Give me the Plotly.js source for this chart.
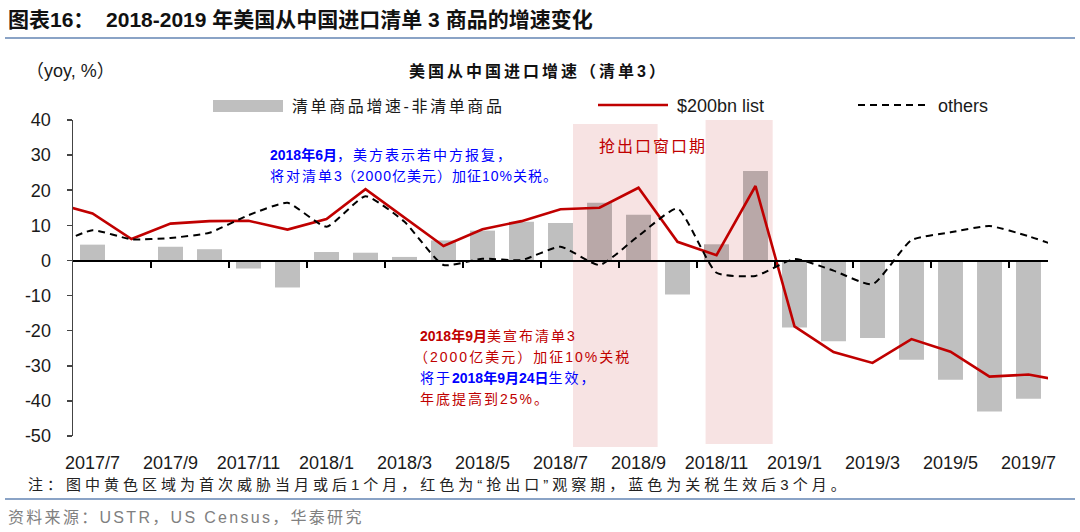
<!DOCTYPE html>
<html>
<head>
<meta charset="utf-8">
<script src="https://cdn.plot.ly/plotly-3.0.1.min.js"></script>
<style>
  html, body { margin: 0; padding: 0; background: #fff; }
  #grafico { width: 1080px; height: 532px; }
</style>
</head>
<body>
<div id="grafico"></div>
<script>
// months: 2017/6 and 2019/8 only feed the line ends that get clipped at the plot edges
let months = ['2017/6', '2017/7', '2017/8', '2017/9', '2017/10', '2017/11', '2017/12',
  '2018/1', '2018/2', '2018/3', '2018/4', '2018/5', '2018/6', '2018/7', '2018/8', '2018/9',
  '2018/10', '2018/11', '2018/12', '2019/1', '2019/2', '2019/3', '2019/4', '2019/5',
  '2019/6', '2019/7', '2019/8'];
let labelMonths = ['2017/7', '2017/9', '2017/11', '2018/1', '2018/3', '2018/5', '2018/7',
  '2018/9', '2018/11', '2019/1', '2019/3', '2019/5', '2019/7'];
let tickMonths = labelMonths.slice(1);

// 清单商品增速-非清单商品
let gapVals = [null, 4.5, 0, 3.9, 3.2, -2.3, -7.7, 2.4, 2.2, 1.0, 5.7, 8.5, 11.0, 10.7,
  16.4, 13.0, -9.7, 4.6, 25.5, -19.1, -23.0, -22.1, -28.3, -34.0, -43.0, -39.4, null];
// $200bn list
let list200 = [16.4, 13.4, 6.1, 10.5, 11.2, 11.3, 8.8, 11.8, 20.3, 12.2, 4.1, 8.9, 11.2,
  14.6, 15.0, 20.7, 5.3, 1.5, 21.2, -18.8, -26.1, -29.2, -22.4, -26.0, -33.1, -32.5, -34.5];
// others
let others = [4.2, 8.6, 6.0, 6.4, 7.9, 12.9, 16.4, 9.6, 18.3, 11.0, -1.3, 0.5, 0.1, 3.9,
  -1.3, 7.0, 14.8, -3.5, -4.4, 0.4, -2.9, -6.8, 5.8, 8.0, 9.8, 6.9, 3.1];

let windowMonths = ['2018/8', '2018/9', '2018/11', '2018/12'];
let yTicks = [40, 30, 20, 10, 0, -10, -20, -30, -40, -50];
let yTickText = yTicks.map(v => String(v));

const RED = '#c00000';
const BLUE = '#0000ff';
const FONT = 'Arial, "Liberation Sans", "Noto Sans CJK SC", sans-serif';

// pixel -> paper helpers (plot area 73..1048 x 120..436)
const L = 73, W = 975, B = 436, H = 316;
const px = x => (x - L) / W;
const py = y => (B - y) / H;

let barColors = months.map(m => windowMonths.includes(m) ? '#b9a8a8' : '#bfbfbf');
// tick marks sit on the boundary before each labelled month
let tickPos = tickMonths.map(m => months.indexOf(m) - 0.5);

let barras = {
  type: 'bar',
  x: months,
  y: gapVals,
  marker: { color: barColors },
  name: '清单商品增速-非清单商品'
};
let lista = {
  type: 'scatter',
  mode: 'lines',
  x: months,
  y: list200,
  xaxis: 'x2',
  line: { color: RED, width: 2.6 },
  name: '$200bn list'
};
let otros = {
  type: 'scatter',
  mode: 'lines',
  x: months,
  y: others,
  xaxis: 'x2',
  line: { color: '#000', width: 2, dash: '7px,5px', shape: 'spline', smoothing: 0.5 },
  name: 'others'
};

function txt(text, x, y, size, color, extra) {
  return Object.assign({
    text: text, xref: 'paper', yref: 'paper', x: px(x), y: py(y),
    xanchor: 'left', yanchor: 'middle', showarrow: false,
    font: { family: FONT, size: size, color: color }
  }, extra || {});
}
function sp(s, n) { return '<span style="letter-spacing:' + n + 'px">' + s + '</span>'; }

let annotations = [
  txt('<b>图表16：  2018-2019 年美国从中国进口清单 3 商品的增速变化</b>', 6, 19, 21, '#111'),
  txt('（yoy, %）', 24, 71, 18, '#1a1a1a'),
  txt('<b>' + sp('美国从中国进口增速（清单3）', 3) + '</b>', 538, 71, 16, '#111', { xanchor: 'center' }),
  txt(sp('清单商品增速-非清单商品', 2.6), 290, 106, 16, '#1a1a1a'),
  txt('$200bn list', 675, 106, 18, '#1a1a1a'),
  txt('others', 936, 106, 18, '#1a1a1a'),
  txt('<b>2018年6月</b>' + sp('，美方表示若中方报复，', 2), 268, 155, 14, BLUE),
  txt(sp('将对清单', 2) + '3' + sp('（2000亿美元）加征10%关税。', 1), 268, 176, 14, BLUE),
  txt(sp('抢出口窗口期', 2), 597, 146, 16, RED),
  txt('<b>2018年9月</b>' + sp('美宣布清单', 2) + '3', 418, 336, 14, RED),
  txt(sp('（2000亿美元）加征10%关税', 2), 412, 357, 14, RED),
  txt(sp('将于', 2) + '<b>2018年9月24日</b>' + sp('生效，', 2), 418, 378, 14, BLUE),
  txt(sp('年底提高到25%。', 2), 418, 399, 14, RED),
  txt(sp('注：图中黄色区域为首次威胁当月或后1个月，红色为“抢出口”观察期，蓝色为关税生效后3个月。', 4), 26, 484, 15, '#222'),
  txt(sp('资料来源：USTR，US Census，华泰研究', 2.3), 6, 517, 16, '#808080')
];

let shapes = [
  // pink windows
  { type: 'rect', xref: 'x', yref: 'paper', x0: 13.32, x1: 15.49, y0: py(447), y1: py(124),
    fillcolor: '#f7e3e3', line: { width: 0 }, layer: 'below' },
  { type: 'rect', xref: 'x', yref: 'paper', x0: 16.72, x1: 18.44, y0: py(444), y1: py(120),
    fillcolor: '#f7e3e3', line: { width: 0 }, layer: 'below' },
  // separators
  { type: 'line', xref: 'paper', yref: 'paper', x0: px(5), x1: px(1075), y0: py(38), y1: py(38),
    line: { color: '#8aa3c6', width: 2 } },
  { type: 'line', xref: 'paper', yref: 'paper', x0: px(5), x1: px(1075), y0: py(499), y1: py(499),
    line: { color: '#8aa3c6', width: 2 } },
  // legend symbols
  { type: 'rect', xref: 'paper', yref: 'paper', x0: px(213), x1: px(283), y0: py(112), y1: py(100),
    fillcolor: '#bfbfbf', line: { width: 0 } },
  { type: 'line', xref: 'paper', yref: 'paper', x0: px(598), x1: px(668), y0: py(105), y1: py(105),
    line: { color: RED, width: 2.6 } },
  { type: 'line', xref: 'paper', yref: 'paper', x0: px(858), x1: px(928), y0: py(105), y1: py(105),
    line: { color: '#000', width: 2, dash: '7px,5px' } }
];

let layout = {
  width: 1080,
  height: 532,
  margin: { l: 73, r: 32, t: 120, b: 96 },
  paper_bgcolor: '#fff',
  plot_bgcolor: 'rgba(0,0,0,0)',
  showlegend: false,
  bargap: 0.36,
  font: { family: FONT, size: 16, color: '#1a1a1a' },
  xaxis: {
    type: 'category',
    categoryorder: 'array',
    categoryarray: months,
    range: [0.5, 25.5],
    tickmode: 'array',
    tickvals: labelMonths,
    ticks: '',
    showline: false,
    showgrid: false,
    zeroline: false,
    ticklabelstandoff: 14,
    tickfont: { size: 18, color: '#1a1a1a' }
  },
  xaxis2: {
    type: 'category',
    categoryorder: 'array',
    categoryarray: months,
    overlaying: 'x',
    anchor: 'free',
    position: 50 / 90,
    range: [0.5, 25.5],
    tickmode: 'array',
    tickvals: tickPos,
    ticks: 'outside',
    ticklen: 6,
    tickwidth: 1.5,
    tickcolor: '#000',
    showticklabels: false,
    showline: true,
    linecolor: '#000',
    linewidth: 1.5,
    showgrid: false,
    zeroline: false
  },
  yaxis: {
    range: [-50, 40],
    tickmode: 'array',
    tickvals: yTicks,
    ticktext: yTickText,
    ticks: 'outside',
    ticklen: 5,
    tickwidth: 1.5,
    tickcolor: '#444',
    showline: true,
    linecolor: '#444',
    linewidth: 1.5,
    showgrid: false,
    zeroline: false,
    ticklabelstandoff: 12,
    tickfont: { size: 18, color: '#1a1a1a' }
  },
  shapes: shapes,
  annotations: annotations
};

let config = { responsive: false, displayModeBar: false, staticPlot: true };

Plotly.newPlot('grafico', [barras, lista, otros], layout, config);
</script>
</body>
</html>
